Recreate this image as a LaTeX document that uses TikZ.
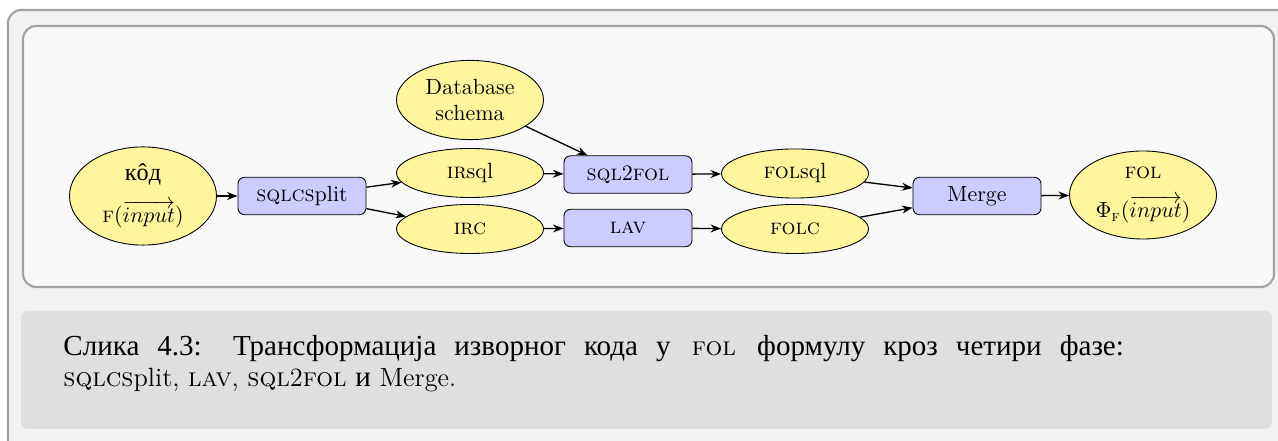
\documentclass[tikz,border=0pt]{standalone}
\usepackage{amsmath,amssymb}
\usepackage{fontspec}
\newfontfamily\cyrfont[Scale=1.1]{Liberation Serif}
\usetikzlibrary{shapes.geometric,arrows.meta}

\definecolor{datafill}{RGB}{255,245,157}
\definecolor{phasefill}{RGB}{204,204,255}
\definecolor{framegray}{RGB}{163,163,163}
\definecolor{outerbg}{RGB}{242,242,242}
\definecolor{innerbg}{RGB}{248,248,248}
\definecolor{captionbg}{RGB}{223,223,223}

\newcommand{\cyr}[1]{{\cyrfont #1}}

\tikzset{
	data/.style={ellipse, draw, fill=datafill, minimum width=66.8pt, minimum height=22.3pt, inner sep=2pt, align=center},
	bigdata/.style={data, minimum height=40pt, inner sep=1pt},
	phase/.style={rectangle, rounded corners=3pt, draw, fill=phasefill, minimum width=58.2pt, minimum height=17pt},
}

\begin{document}
\begin{tikzpicture}[x=0.4545pt, y=-0.4545pt, >={Stealth[length=4.8pt,width=3.6pt]}]
\useasboundingbox (0,0) rectangle (1278,441);
\clip (0,0) rectangle (1278,441);
% frames
\draw[framegray, line width=1pt, fill=outerbg, rounded corners=6pt] (8,10) rectangle (1310,470);
\draw[framegray, line width=1pt, fill=innerbg, rounded corners=6pt] (23,26) rectangle (1274,287);
\fill[captionbg, rounded corners=3pt] (21,311) rectangle (1272,429);

\node[bigdata] (code) at (143,196) {\cyr{кôд}\\[6pt]$\textsc{f}(\overrightarrow{input})$};
\node[phase] (split) at (302,196) {\textsc{sqlcs}plit};
\node[data, minimum height=36pt] (schema) at (470,100) {Database\\schema};
\node[data] (irsql) at (470,173) {\textsc{ir}sql};
\node[data] (irc) at (470,229) {\textsc{irc}};
\node[phase] (sqlfol) at (628,174.5) {\textsc{sql}2\textsc{fol}};
\node[phase] (lav) at (628,228) {\textsc{lav}};
\node[data] (folsql) at (795,173.5) {\textsc{fol}sql};
\node[data] (folc) at (795,229) {\textsc{folc}};
\node[phase] (merge) at (977,196) {Merge};
\node[bigdata] (phi) at (1143,195) {\textsc{fol}\\[6pt]$\Phi_{\textsc{f}}(\overrightarrow{input})$};

\path[->, semithick]
(code) edge (split)
(split) edge (irsql)
	edge (irc)
(schema) edge (sqlfol)
(irsql) edge (sqlfol)
(irc) edge (lav)
(sqlfol) edge (folsql)
(lav) edge (folc)
(folsql) edge (merge)
(folc) edge (merge)
(merge) edge (phi)
;

% caption
\node[anchor=base west, text width=482pt, align=justify, inner sep=0pt,
	font=\fontsize{12}{14}\selectfont] (caption) at (63,356)
{\cyr{Слика 4.3: Трансформација изворног кода у} \textsc{fol} \cyr{формулу кроз четири фазе:}\linebreak
\textsc{sqlcs}plit, \textsc{lav}, \textsc{sql}2\textsc{fol} \cyr{и} Merge.};
\end{tikzpicture}
\end{document}
